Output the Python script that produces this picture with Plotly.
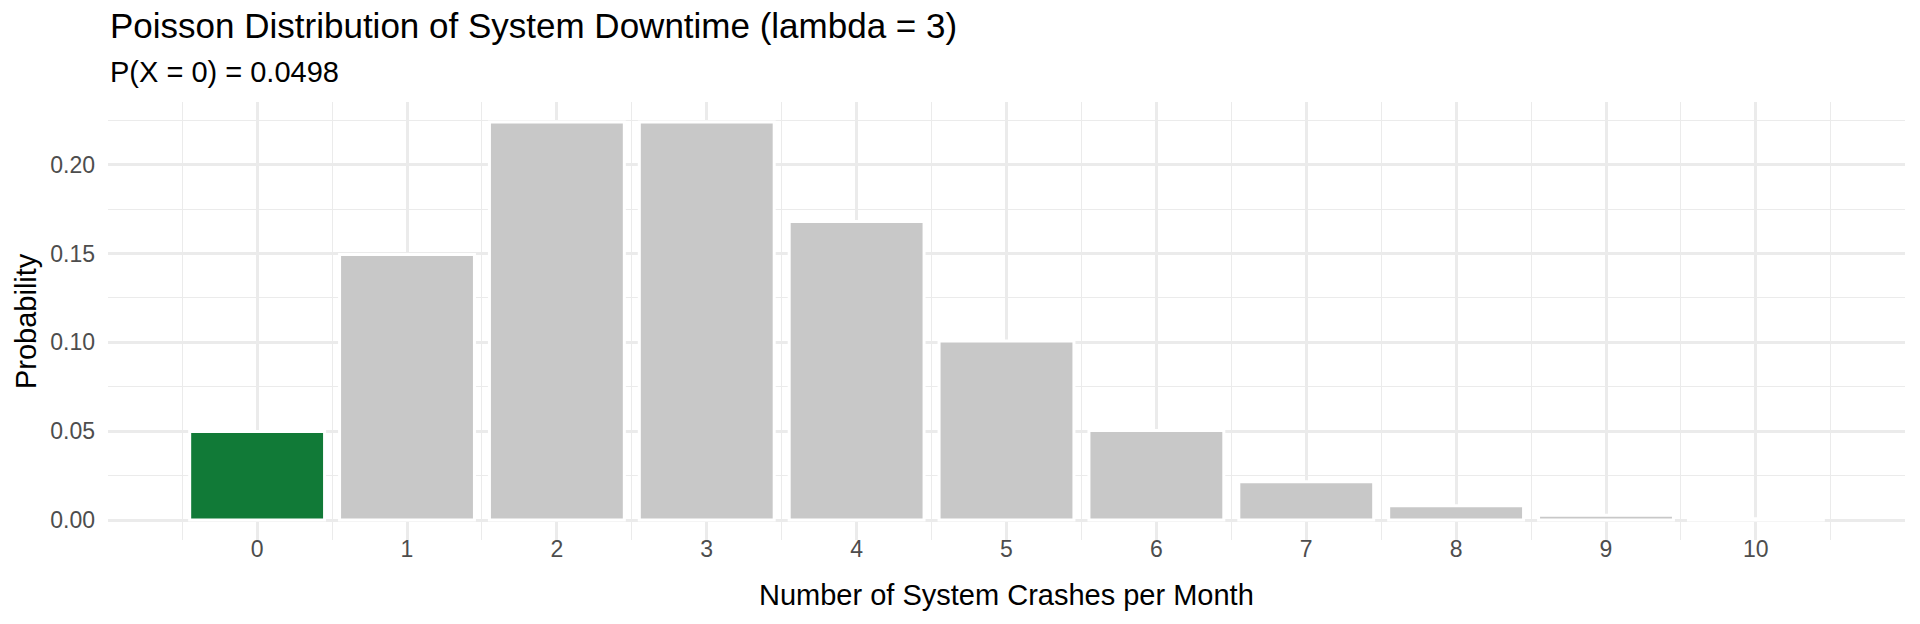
"""Poisson pmf of monthly system crashes, lambda = 3 (ggplot-style look)"""

import plotly.graph_objects as go

## -------------------------------------------------------------
## Data

crashes = [0, 1, 2, 3, 4, 5, 6, 7, 8, 9, 10]
probability = [0.0498, 0.1494, 0.2240, 0.2240, 0.1680, 0.1008,
               0.0504, 0.0216, 0.0081, 0.0027, 0.0008]

y_ticks = [0.00, 0.05, 0.10, 0.15, 0.20]
y_tick_labels = ["0.00", "0.05", "0.10", "0.15", "0.20"]

title_text = "Poisson Distribution of System Downtime (lambda = 3)"
subtitle_text = "P(X = 0) = 0.0498"

## -------------------------------------------------------------
## Styling

FONT = "Liberation Sans, Arial, sans-serif"
GREEN = "#117A37"
GREY = "#C8C8C8"
GRID = "#EBEBEB"

bar_colors = [GREEN if k == 0 else GREY for k in crashes]

# ggplot-like expansion: 5% of data range on each side
x_lo, x_hi = min(crashes) - 0.45, max(crashes) + 0.45
x_pad = 0.05 * (x_hi - x_lo)
y_pad = 0.05 * max(probability)

fig = go.Figure(go.Bar(
    x=crashes,
    y=probability,
    width=0.9,
    marker=dict(color=bar_colors, line=dict(color="white", width=3)),
    hoverinfo="x+y",
))

fig.update_layout(
    width=1920, height=624,
    margin=dict(l=108, r=15, t=102, b=84),
    paper_bgcolor="white",
    plot_bgcolor="white",
    font=dict(family=FONT, color="#4D4D4D"),
    showlegend=False,
)

fig.update_xaxes(
    range=[x_lo - x_pad, x_hi + x_pad],
    tickmode="array", tickvals=crashes, ticktext=[str(k) for k in crashes],
    tickfont=dict(size=23, color="#4D4D4D"),
    showgrid=True, gridcolor=GRID, gridwidth=2.8,
    minor=dict(dtick=0.5, tick0=0.5, showgrid=True, gridcolor=GRID, gridwidth=1.4),
    zeroline=False, showline=False, ticks="",
    ticklabelstandoff=-7,
)

fig.update_yaxes(
    range=[-y_pad, max(probability) + y_pad],
    tickmode="array", tickvals=y_ticks, ticktext=y_tick_labels,
    tickfont=dict(size=23, color="#4D4D4D"),
    showgrid=True, gridcolor=GRID, gridwidth=2.8,
    minor=dict(dtick=0.025, tick0=0.025, showgrid=True, gridcolor=GRID, gridwidth=1.4),
    zeroline=False, showline=False, ticks="",
    ticklabelstandoff=12,
)

# Titles as annotations so they sit where ggplot puts them
fig.add_annotation(text=title_text, xref="paper", yref="paper", x=0, y=1.174,
                   xanchor="left", yanchor="middle", showarrow=False,
                   font=dict(family=FONT, size=35, color="black"))
fig.add_annotation(text=subtitle_text, xref="paper", yref="paper", x=0, y=1.068,
                   xanchor="left", yanchor="middle", showarrow=False,
                   font=dict(family=FONT, size=29, color="black"))
fig.add_annotation(text="Number of System Crashes per Month", xref="paper", yref="paper",
                   x=0.5, y=-0.126, xanchor="center", yanchor="middle", showarrow=False,
                   font=dict(family=FONT, size=29, color="black"))
fig.add_annotation(text="Probability", xref="paper", yref="paper",
                   x=-0.0456, y=0.5, xanchor="center", yanchor="middle", showarrow=False,
                   textangle=-90, font=dict(family=FONT, size=29, color="black"))

# drop the browser's default body margin so the figure starts at (0, 0)
fig.write_html("out.html", config={"displayModeBar": False},
               post_script="document.body.style.margin = '0';")
